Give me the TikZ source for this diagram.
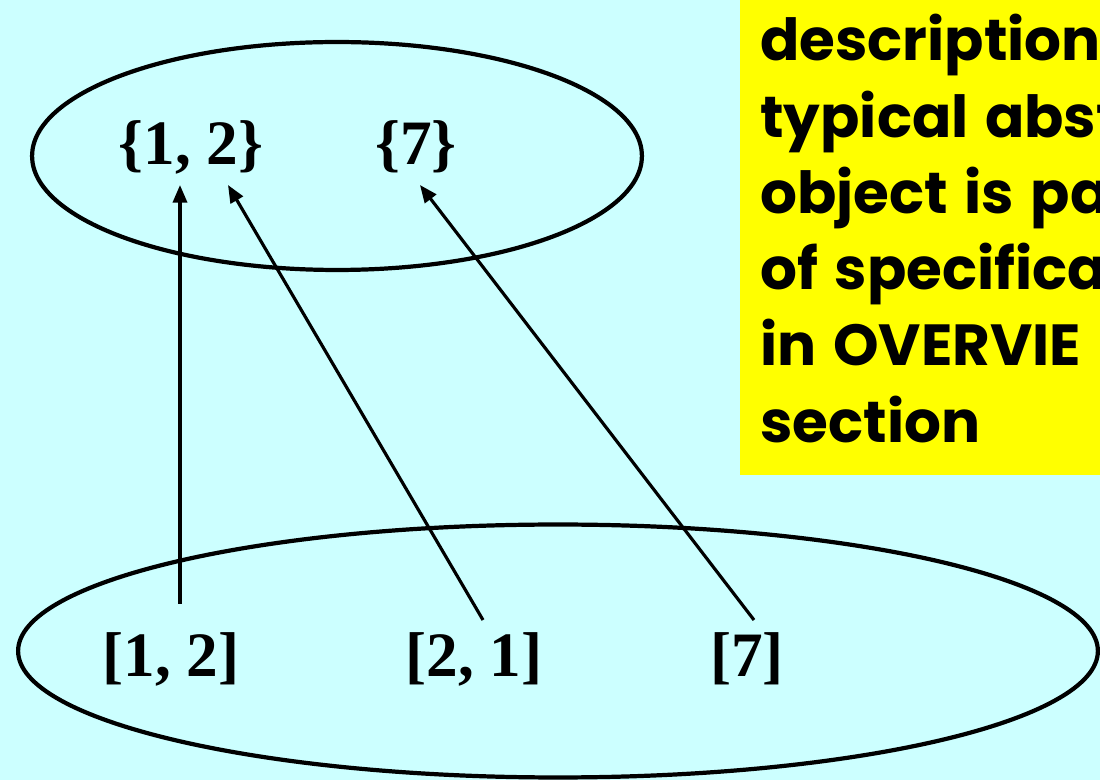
\documentclass[tikz,border=0pt]{standalone}
\usepackage{fontspec}
\setmainfont{Liberation Serif}
\newfontfamily\notefont[WordSpace=1.35]{Poppins}
\usetikzlibrary{shapes.geometric, arrows.meta, positioning, calc}
\definecolor{slidecyan}{RGB}{204, 255, 255}
\definecolor{noteyellow}{RGB}{255, 255, 0}

\begin{document}
\begin{tikzpicture}[
  x=0.02cm, y=-0.02cm,
  setfont/.style={font=\fontsize{36}{40}\selectfont\bfseries, inner sep=0pt, anchor=base},
  abstract/.style={ellipse, draw, line width=2.4pt},
  arrow/.style={-{Triangle[length=10pt, width=8pt]}, line width=1.8pt},
  notetext/.style={font=\fontsize{33}{43.4}\selectfont\notefont\bfseries,
                   align=left, inner sep=0pt, anchor=north west},
]
  \useasboundingbox (0,0) rectangle (1100,780);
  \clip (0,0) rectangle (1100,780);
  \fill[slidecyan] (0,0) rectangle (1100,780);

  % note box on the right
  \fill[noteyellow] (740,-10) rectangle (1110,475);
  \node[notetext] (note) at (760,14)
    {description\\ typical abst\\ object is pa\\ of specifica\\ in OVERVIE\\ section};

  % the two sets
  \node[abstract, minimum width=12.2cm, minimum height=4.56cm] (sets) at (337,156) {};
  \node[abstract, minimum width=21.6cm, minimum height=5.06cm] (lists) at (558,651) {};

  \node[setfont] (s12) at (191,165) {\{1, 2\}};
  \node[setfont] (s7) at (416,165) {\{7\}};

  \node[setfont] (l12) at (171,677) {[1, 2]};
  \node[setfont] (l21) at (474,677) {[2, 1]};
  \node[setfont] (l7) at (747,677) {[7]};

  \draw[arrow] ($(l12.base)+(9,-73)$) -- ($(s12.base)+(-11,20)$);
  \draw[arrow] ($(l21.base)+(9,-57)$) -- ($(s12.base)+(37,20)$);
  \draw[arrow] ($(l7.base)+(7,-57)$) -- ($(s7.base)+(4,20)$);
\end{tikzpicture}
\end{document}
